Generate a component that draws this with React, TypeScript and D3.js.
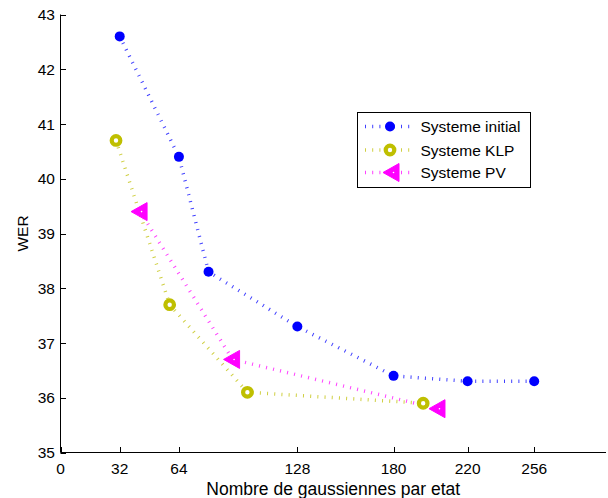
import React from "react";
import * as d3 from "d3";

const initialX = [32, 64, 80, 128, 180, 220, 256];
const initialY = [42.6, 40.4, 38.3, 37.3, 36.4, 36.3, 36.3];
const klpX = [30, 59, 101, 196];
const klpY = [40.7, 37.7, 36.1, 35.9];
const pvX = [43, 93, 204];
const pvY = [39.4, 36.7, 35.8];
const xTicks = [0, 32, 64, 128, 180, 220, 256];
const yTicks = [35, 36, 37, 38, 39, 40, 41, 42, 43];
const seriesNames = ["Systeme initial", "Systeme KLP", "Systeme PV"];

const W = 608;
const H = 498;
const left = 60.5;
const right = 606;
const top = 14.5;
const bottom = 452.5;
const font = "Liberation Sans, Arial, Helvetica, sans-serif";

const BLUE = "#0000ff";
const YELLOW = "#bfbf00";
const MAGENTA = "#ff00ff";

function Marker({ kind, x, y }: { kind: number; x: number; y: number }) {
  if (kind === 0) return <circle cx={x} cy={y} r={5} fill={BLUE} />;
  if (kind === 1)
    return <circle cx={x} cy={y} r={4.3} fill="white" stroke={YELLOW} strokeWidth={4.2} />;
  const p = `${x - 9},${y} ${x + 7},${y - 9} ${x + 7},${y + 9}`;
  return (
    <g>
      <polygon points={p} fill={MAGENTA} stroke={MAGENTA} strokeWidth={1} strokeLinejoin="miter" />
      <circle cx={x + 1.5} cy={y} r={0.8} fill="white" />
    </g>
  );
}

export default function App() {
  const xs = d3.scaleLinear().domain([0, 294.8]).range([left, right]);
  const ys = d3.scaleLinear().domain([35, 43]).range([bottom, top]);
  const series = [
    { xv: initialX, yv: initialY, color: BLUE },
    { xv: klpX, yv: klpY, color: YELLOW },
    { xv: pvX, yv: pvY, color: MAGENTA },
  ];
  const line = d3
    .line<[number, number]>()
    .x((d) => xs(d[0]))
    .y((d) => ys(d[1]));

  const legX = 357.5;
  const legY = 112.5;
  const legW = 173;
  const legH = 75;
  const rowY = [126.5, 150, 172.5];

  return (
    <svg width={W} height={H} style={{ position: "absolute", left: 0, top: 0, background: "white" }}>
      <rect width={W} height={H} fill="white" />
      {series.map((s, i) => (
        <path
          key={"l" + i}
          d={line(s.xv.map((x, j) => [x, s.yv[j]]) as [number, number][]) || ""}
          fill="none"
          stroke={s.color}
          strokeOpacity={0.75}
          strokeWidth={3.5}
          strokeDasharray="1,6.2"
        />
      ))}
      {series.map((s, i) =>
        s.xv.map((x, j) => <Marker key={`m${i}-${j}`} kind={i} x={xs(x)} y={ys(s.yv[j])} />)
      )}
      {/* axes */}
      <line x1={left} y1={top} x2={left} y2={bottom} stroke="black" />
      <line x1={left} y1={bottom} x2={right} y2={bottom} stroke="black" />
      {yTicks.map((t) => (
        <g key={"y" + t}>
          <line x1={left} x2={left + 5.5} y1={Math.round(ys(t)) + 0.5} y2={Math.round(ys(t)) + 0.5} stroke="black" />
          <text x={55} y={ys(t) + 5.5} textAnchor="end" fontFamily={font} fontSize={15.5} fill="black">
            {t}
          </text>
        </g>
      ))}
      {xTicks.map((t) => (
        <g key={"x" + t}>
          <line x1={Math.round(xs(t)) + 0.5} x2={Math.round(xs(t)) + 0.5} y1={bottom} y2={bottom - 5.5} stroke="black" />
          <text x={xs(t)} y={473.5} textAnchor="middle" fontFamily={font} fontSize={15.5} fill="black">
            {t}
          </text>
        </g>
      ))}
      <text x={(left + right) / 2} y={494.5} textAnchor="middle" fontFamily={font} fontSize={17.5} fill="black">
        Nombre de gaussiennes par etat
      </text>
      <text
        transform={`translate(27.5, ${(top + bottom) / 2}) rotate(-90)`}
        textAnchor="middle"
        fontFamily={font}
        fontSize={15.5}
        fill="black"
      >
        WER
      </text>
      {/* legend */}
      <rect x={legX} y={legY} width={legW} height={legH} fill="white" stroke="black" />
      {series.map((s, i) => (
        <g key={"g" + i}>
          <line
            x1={365}
            x2={412}
            y1={rowY[i]}
            y2={rowY[i]}
            stroke={s.color}
            strokeOpacity={0.75}
            strokeWidth={3.5}
            strokeDasharray="1,6.2"
          />
          <Marker kind={i} x={i === 2 ? 392 : 390} y={rowY[i]} />
          <text x={420.5} y={rowY[i] + 5.5} fontFamily={font} fontSize={15.5} fill="black">
            {seriesNames[i]}
          </text>
        </g>
      ))}
    </svg>
  );
}
